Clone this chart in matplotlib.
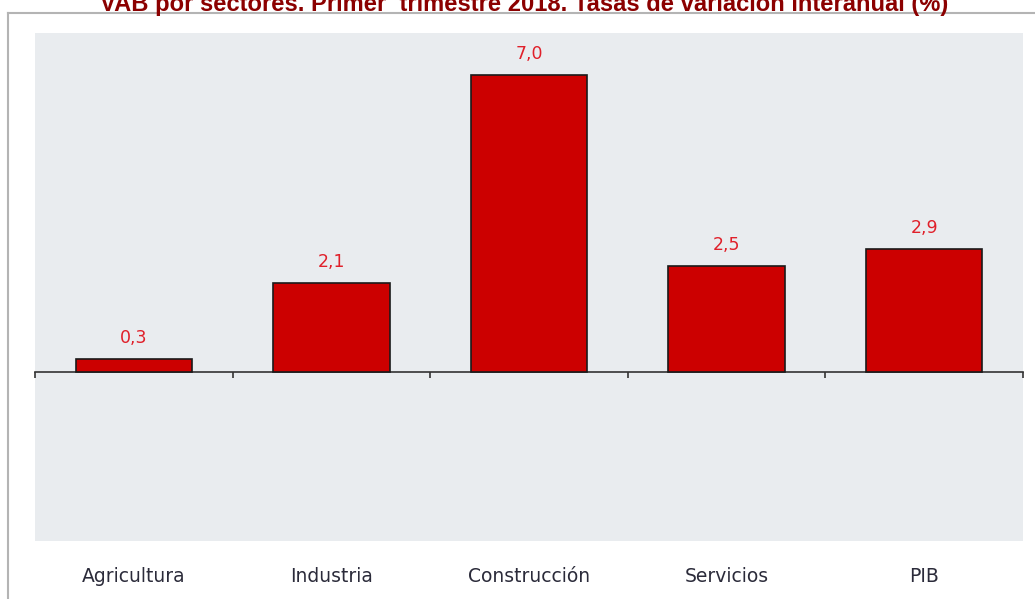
import matplotlib
matplotlib.use("Agg")
import matplotlib.pyplot as plt
from matplotlib.lines import Line2D
import matplotlib.transforms as mtransforms

# ---------- Data ----------
categories = ["Agricultura", "Industria", "Construcción", "Servicios", "PIB"]
values = [0.3, 2.1, 7.0, 2.5, 2.9]
value_labels = ["0,3", "2,1", "7,0", "2,5", "2,9"]
title = "VAB por sectores. Primer  trimestre 2018. Tasas de variación interanual (%)"

W, H = 1035, 599
fig = plt.figure(figsize=(W / 100, H / 100), dpi=100)
fig.patch.set_facecolor("white")

# outer frame (left and top edges visible)
frame_col = "#b4b4b4"
fig.add_artist(Line2D([7.5 / W, 7.5 / W], [0, 1 - 13 / H], color=frame_col, lw=1.5,
                      transform=fig.transFigure))
fig.add_artist(Line2D([7.5 / W, 1.0], [1 - 13 / H, 1 - 13 / H], color=frame_col, lw=1.5,
                      transform=fig.transFigure))

# plot area
ax = fig.add_axes([35 / W, 1 - 541 / H, (1023 - 35) / W, (541 - 33) / H])
ax.set_facecolor("#e9ecef")
for s in ["top", "right", "left"]:
    ax.spines[s].set_visible(False)
ax.spines["bottom"].set_position(("data", 0))
ax.spines["bottom"].set_color("#333333")
ax.spines["bottom"].set_linewidth(1.2)

x = list(range(len(categories)))
ax.bar(x, values, width=0.59, color="#cc0000", edgecolor="#1a1a1a", linewidth=1.2, zorder=3)

ax.set_xlim(-0.5, len(categories) - 0.5)
ax.set_ylim(-4, 8)
ax.set_yticks([])
ax.set_xticks([i - 0.5 for i in range(len(categories) + 1)])
ax.set_xticklabels([])
ax.tick_params(axis="x", direction="out", length=4, width=1.2, color="#333333")

for xi, v, lab in zip(x, values, value_labels):
    ax.annotate(lab, (xi, v), xytext=(0, 15), textcoords="offset points",
                ha="center", va="center", color="#e0202a", fontsize=12.5,
                family="DejaVu Sans")

trans = mtransforms.blended_transform_factory(ax.transData, ax.transAxes)
for xi, cat in zip(x, categories):
    ax.text(xi, -36 / 508, cat, transform=trans, ha="center", va="center",
            fontsize=13.5, color="#2b2b3a", family="DejaVu Sans")

fig.text(524 / W, 1 - 5 / H, title, ha="center", va="center", fontsize=17.1,
         fontweight="bold", color="#8b0000", family="Liberation Sans")

fig.savefig("out.png", dpi=100)
